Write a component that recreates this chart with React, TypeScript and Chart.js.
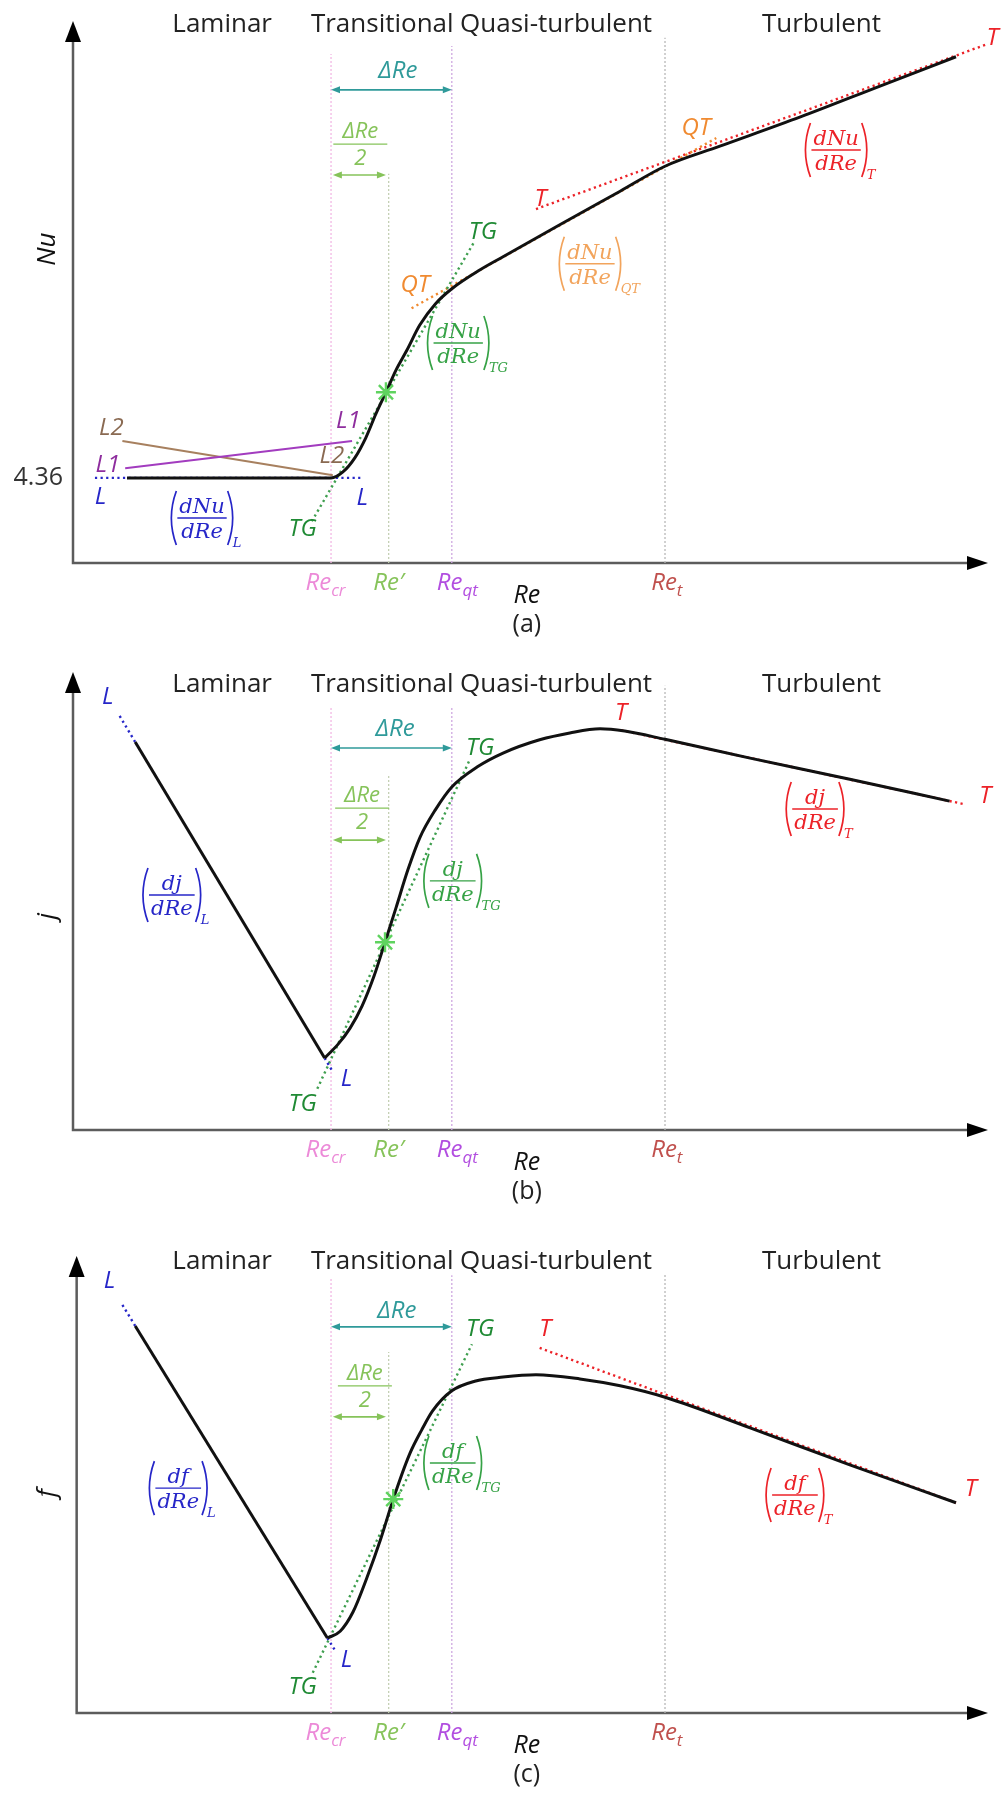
import React, { useEffect, useRef } from "react";
import { Chart, registerables } from "chart.js";
Chart.register(...registerables);

// Schematic units: Re axis 0..100, property axis 0..100 (the source figure has no numeric scale)
const regions = ["Laminar", "Transitional", "Quasi-turbulent", "Turbulent"];
const regionRe = [16.3, 33.8, 52.8, 81.8];
const markRe = [28.2, 34.5, 41.4, 64.7]; // Re_cr, Re', Re_qt, Re_t
const markLabelRe = [27.6, 34.5, 42.0, 64.9];
const markMain = ["Re", "Re\u2032", "Re", "Re"];
const markSub = ["cr", "", "qt", "t"];

// ---- (a) Nu ----
const nuRe = [5.9, 28.2, 29.5, 30.8, 32.0, 33.1, 34.2, 35.3, 36.5, 37.9, 39.6, 41.4, 44.5, 47.0, 53.2, 59.8, 64.7, 70.7, 79.5, 88.2, 96.5];
const nuVal = [15.7, 15.7, 16.8, 19.4, 23.1, 27.5, 31.5, 35.6, 39.3, 43.9, 47.8, 50.6, 54.1, 56.5, 62.4, 68.6, 73.2, 76.9, 82.3, 88.0, 93.4];
const nuStar = [34.2, 31.5];
const nuLRe = [2.4, 31.4];
const nuLVal = [15.7, 15.7];
const nuL1Re = [5.7, 30.5];
const nuL1Val = [17.5, 22.5];
const nuL2Re = [5.4, 28.4];
const nuL2Val = [22.5, 16.2];
const nuTgRe = [26.1, 43.9];
const nuTgVal = [7.7, 59.4];
const nuQtRe = [37.0, 70.3];
const nuQtVal = [47.0, 78.4];
const nuTRe = [50.6, 99.7];
const nuTVal = [65.3, 95.6];
const nuLaminarTick = "4.36";
const nuLaminarValue = 15.7;

// ---- (b) j ----
const jLamRe = [6.8, 27.5];
const jLamVal = [84.7, 15.7];
const jRe = [27.5, 29.0, 30.3, 31.6, 32.9, 34.1, 35.3, 36.6, 37.9, 39.6, 41.4, 44.2, 47.0, 51.0, 54.3, 57.6, 60.3, 64.7, 74.0, 84.9, 95.8];
const jVal = [15.7, 18.8, 22.3, 27.1, 33.6, 41.0, 48.5, 56.8, 63.8, 69.9, 74.9, 79.3, 82.3, 85.2, 86.7, 87.6, 87.1, 85.3, 81.2, 76.6, 71.8];
const jStar = [34.1, 41.0];
const jLTopRe = [5.1, 6.8];
const jLTopVal = [90.4, 84.7];
const jLBotRe = [27.5, 28.4];
const jLBotVal = [15.7, 12.7];
const jTgRe = [26.7, 43.4];
const jTgVal = [9.0, 81.0];
const jTRe = [59.9, 97.5];
const jTVal = [87.3, 71.1];

// ---- (c) f ----
const fLamRe = [6.8, 27.8];
const fLamVal = [84.7, 16.4];
const fRe = [27.8, 29.2, 30.6, 32.1, 33.6, 35.0, 36.8, 38.1, 39.3, 41.4, 43.9, 47.0, 50.6, 55.4, 59.8, 64.7, 74.0, 84.9, 96.5];
const fVal = [16.4, 17.9, 22.1, 29.5, 37.9, 46.8, 56.7, 61.9, 66.1, 70.5, 72.6, 73.5, 74.0, 73.1, 71.6, 69.1, 62.4, 54.3, 46.0];
const fStar = [35.0, 46.8];
const fLTopRe = [5.4, 6.8];
const fLTopVal = [89.3, 84.7];
const fLBotRe = [27.8, 28.7];
const fLBotVal = [16.4, 13.5];
const fTgRe = [26.2, 43.6];
const fTgVal = [8.8, 80.7];
const fTRe = [51.0, 96.5];
const fTVal = [79.9, 46.0];

// ---------------- styling ----------------
const SANS = '"Open Sans", "DejaVu Sans", sans-serif';
const SERIF = '"DejaVu Serif", serif';
const C = {
  curve: "#111111",
  axis: "#5c5c5c",
  blue: "#2626c8",
  green: "#1f8a34",
  greenLine: "#3f9f4f",
  greenFrac: "#36a246",
  star: "#5fd35f",
  orange: "#f08a30",
  orangeFrac: "#f2a45c",
  red: "#ec2228",
  teal: "#2f9a9a",
  light: "#86c35a",
  l1: "#a23cbf",
  l1Text: "#8e2d9e",
  l2: "#a7805f",
  l2Text: "#8a6a52",
  region: "#222222",
};
const markColor = ["#ec8ad8", "#86c35a", "#b24ee0", "#c0504d"];
const vLineColor = ["#f2b8e4", "#c4d0b4", "#cfa8e0", "#b8b8b8"];

type Tag = { t: string; x: number; y: number; c: string };
type Frac = { num: string; den: string; sub: string; x: number; y: number; c: string };
type PanelCfg = {
  height: number;
  padTop: number;
  padBottom: number;
  yAxisAt: number;
  yName: string;
  yNameY: number;
  regionY: number;
  tick?: { t: string; y: number };
  tags: Tag[];
  fracs: Frac[];
  dRe: { x: number; y: number; arrowY: number };
  dRe2: { x: number; y: number; arrowY: number };
  caption: string;
  datasets: any[];
};

const pts = (xs: number[], ys: number[]) => xs.map((x, i) => ({ x, y: ys[i] }));
const seg = (xs: number[], ys: number[], color: string, width: number, dash: number[] = [], order = 2) => ({
  data: pts(xs, ys),
  borderColor: color,
  borderWidth: width,
  borderDash: dash,
  pointRadius: 0,
  tension: 0,
  fill: false,
  order,
});
const curve = (xs: number[], ys: number[]) => ({
  data: pts(xs, ys),
  borderColor: C.curve,
  borderWidth: 3,
  pointRadius: 0,
  cubicInterpolationMode: "monotone",
  borderJoinStyle: "round",
  fill: false,
  order: 1,
});
const star = (p: number[]) => ({
  data: [{ x: p[0], y: p[1] }],
  showLine: false,
  pointStyle: "star",
  pointRadius: 10,
  borderWidth: 2.4,
  pointBorderColor: C.star,
  pointBackgroundColor: C.star,
  borderColor: C.star,
  order: 0,
});
const DOT = [2.2, 3.4];
const verticals = (tops: number[]) =>
  markRe.map((x, i) => seg([x, x], [0, tops[i]], vLineColor[i], 1.3, [2, 2], 3));

const panelA: PanelCfg = {
  height: 640,
  padTop: 21,
  padBottom: 77,
  yAxisAt: 0,
  yName: "Nu",
  yNameY: 57.9,
  regionY: 99.3,
  tick: { t: nuLaminarTick, y: nuLaminarValue },
  tags: [
    { t: "L", x: 3.0, y: 12.2, c: C.blue },
    { t: "L", x: 31.6, y: 12.0, c: C.blue },
    { t: "L1", x: 3.8, y: 18.0, c: C.l1Text },
    { t: "L2", x: 4.2, y: 24.9, c: C.l2Text },
    { t: "L1", x: 30.1, y: 26.2, c: C.l1Text },
    { t: "L2", x: 28.3, y: 19.7, c: C.l2Text },
    { t: "TG", x: 25.1, y: 6.3, c: C.green },
    { t: "TG", x: 44.8, y: 61.1, c: C.green },
    { t: "QT", x: 37.4, y: 51.3, c: C.orange },
    { t: "QT", x: 68.1, y: 80.3, c: C.orange },
    { t: "T", x: 51.1, y: 67.2, c: C.red },
    { t: "T", x: 100.5, y: 96.9, c: C.red },
  ],
  fracs: [
    { num: "dNu", den: "dRe", sub: "L", x: 14.1, y: 8.3, c: C.blue },
    { num: "dNu", den: "dRe", sub: "TG", x: 42.1, y: 40.6, c: C.greenFrac },
    { num: "dNu", den: "dRe", sub: "QT", x: 56.5, y: 55.2, c: C.orangeFrac },
    { num: "dNu", den: "dRe", sub: "T", x: 83.4, y: 76.2, c: C.red },
  ],
  dRe: { x: 35.5, y: 90.8, arrowY: 87.3 },
  dRe2: { x: 31.4, y: 77.3, arrowY: 71.6 },
  caption: "(a)",
  datasets: [
    star(nuStar),
    curve(nuRe, nuVal),
    seg(nuL1Re, nuL1Val, C.l1, 2),
    seg(nuL2Re, nuL2Val, C.l2, 2),
    seg(nuLRe, nuLVal, C.blue, 2.4, DOT),
    seg(nuTgRe, nuTgVal, C.greenLine, 2.4, DOT),
    seg(nuQtRe, nuQtVal, C.orange, 2.4, DOT),
    seg(nuTRe, nuTVal, C.red, 2.4, DOT),
    ...verticals([93.9, 71.8, 95.4, 96.9]),
  ],
};

const panelB: PanelCfg = {
  height: 575,
  padTop: 32,
  padBottom: 85,
  yAxisAt: 0,
  yName: "j",
  yNameY: 46.7,
  regionY: 97.2,
  tags: [
    { t: "L", x: 3.8, y: 94.5, c: C.blue },
    { t: "L", x: 29.9, y: 11.1, c: C.blue },
    { t: "TG", x: 25.1, y: 5.7, c: C.green },
    { t: "TG", x: 44.5, y: 83.4, c: C.green },
    { t: "T", x: 59.9, y: 91.0, c: C.red },
    { t: "T", x: 99.7, y: 72.9, c: C.red },
  ],
  fracs: [
    { num: "dj", den: "dRe", sub: "L", x: 10.8, y: 51.3, c: C.blue },
    { num: "dj", den: "dRe", sub: "TG", x: 41.5, y: 54.4, c: C.greenFrac },
    { num: "dj", den: "dRe", sub: "T", x: 81.1, y: 70.1, c: C.red },
  ],
  dRe: { x: 35.2, y: 87.6, arrowY: 83.4 },
  dRe2: { x: 31.6, y: 70.3, arrowY: 63.3 },
  caption: "(b)",
  datasets: [
    star(jStar),
    seg(jLamRe, jLamVal, C.curve, 3, [], 1),
    curve(jRe, jVal),
    seg(jLTopRe, jLTopVal, C.blue, 2.4, DOT),
    seg(jLBotRe, jLBotVal, C.blue, 2.4, DOT),
    seg(jTgRe, jTgVal, C.greenLine, 2.4, DOT),
    seg(jTRe, jTVal, C.red, 2.4, DOT),
    ...verticals([92.6, 77.5, 92.6, 97.0]),
  ],
};

const panelC: PanelCfg = {
  height: 579,
  padTop: 41,
  padBottom: 81,
  yAxisAt: 0.4,
  yName: "f",
  yNameY: 48.1,
  regionY: 98.7,
  tags: [
    { t: "L", x: 4.0, y: 94.5, c: C.blue },
    { t: "L", x: 29.9, y: 11.6, c: C.blue },
    { t: "TG", x: 25.1, y: 5.7, c: C.green },
    { t: "TG", x: 44.5, y: 84.0, c: C.green },
    { t: "T", x: 51.6, y: 84.0, c: C.red },
    { t: "T", x: 98.1, y: 49.0, c: C.red },
  ],
  fracs: [
    { num: "df", den: "dRe", sub: "L", x: 11.5, y: 49.2, c: C.blue },
    { num: "df", den: "dRe", sub: "TG", x: 41.5, y: 54.7, c: C.greenFrac },
    { num: "df", den: "dRe", sub: "T", x: 78.9, y: 47.7, c: C.red },
  ],
  dRe: { x: 35.4, y: 88.0, arrowY: 84.5 },
  dRe2: { x: 31.9, y: 71.6, arrowY: 64.8 },
  caption: "(c)",
  datasets: [
    star(fStar),
    seg(fLamRe, fLamVal, C.curve, 3, [], 1),
    curve(fRe, fVal),
    seg(fLTopRe, fLTopVal, C.blue, 2.4, DOT),
    seg(fLBotRe, fLBotVal, C.blue, 2.4, DOT),
    seg(fTgRe, fTgVal, C.greenLine, 2.4, DOT),
    seg(fTRe, fTVal, C.red, 2.4, DOT),
    ...verticals([95.0, 79.0, 95.8, 96.0]),
  ],
};

const panels = [panelA, panelB, panelC];

// ---------------- drawing helpers ----------------
function label(ctx: CanvasRenderingContext2D, s: string, x: number, y: number, font: string, color: string, align: CanvasTextAlign = "center") {
  ctx.font = font;
  ctx.fillStyle = color;
  ctx.textAlign = align;
  ctx.textBaseline = "middle";
  ctx.fillText(s, x, y);
}

function dblArrow(ctx: CanvasRenderingContext2D, x1: number, x2: number, y: number, color: string) {
  ctx.save();
  ctx.strokeStyle = color;
  ctx.fillStyle = color;
  ctx.lineWidth = 1.6;
  ctx.setLineDash([]);
  ctx.beginPath();
  ctx.moveTo(x1 + 4, y);
  ctx.lineTo(x2 - 4, y);
  ctx.stroke();
  ctx.beginPath();
  ctx.moveTo(x1, y);
  ctx.lineTo(x1 + 9, y - 3.5);
  ctx.lineTo(x1 + 9, y + 3.5);
  ctx.closePath();
  ctx.fill();
  ctx.beginPath();
  ctx.moveTo(x2, y);
  ctx.lineTo(x2 - 9, y - 3.5);
  ctx.lineTo(x2 - 9, y + 3.5);
  ctx.closePath();
  ctx.fill();
  ctx.restore();
}

function drawFrac(ctx: CanvasRenderingContext2D, cx: number, cy: number, f: Frac) {
  ctx.save();
  ctx.font = `italic 21px ${SERIF}`;
  ctx.fillStyle = f.c;
  ctx.strokeStyle = f.c;
  const w = Math.max(ctx.measureText(f.num).width, ctx.measureText(f.den).width) + 4;
  ctx.textAlign = "center";
  ctx.textBaseline = "alphabetic";
  ctx.fillText(f.num, cx, cy - 5);
  ctx.fillText(f.den, cx, cy + 20);
  ctx.lineWidth = 1.4;
  ctx.beginPath();
  ctx.moveTo(cx - w / 2, cy);
  ctx.lineTo(cx + w / 2, cy);
  ctx.stroke();
  const lx = cx - w / 2 - 5;
  const rx = cx + w / 2 + 5;
  const h = 27;
  ctx.lineWidth = 1.7;
  ctx.beginPath();
  ctx.moveTo(lx + 4, cy - h);
  ctx.quadraticCurveTo(lx - 6, cy, lx + 4, cy + h);
  ctx.stroke();
  ctx.beginPath();
  ctx.moveTo(rx - 4, cy - h);
  ctx.quadraticCurveTo(rx + 6, cy, rx - 4, cy + h);
  ctx.stroke();
  ctx.font = `italic 13px ${SERIF}`;
  ctx.textAlign = "left";
  ctx.fillText(f.sub, rx + 1, cy + h + 2);
  ctx.restore();
}

function makePlugin(cfg: PanelCfg) {
  return {
    id: "schematic",
    beforeDatasetsDraw(chart: any) {
      const ctx: CanvasRenderingContext2D = chart.ctx;
      const xs = chart.scales.x;
      const ys = chart.scales.y;
      const ox = xs.getPixelForValue(cfg.yAxisAt);
      const oy = ys.getPixelForValue(0);
      const top = ys.getPixelForValue(100);
      const right = xs.getPixelForValue(100);
      ctx.save();
      ctx.strokeStyle = C.axis;
      ctx.lineWidth = 2.5;
      ctx.beginPath();
      ctx.moveTo(ox, top + 14);
      ctx.lineTo(ox, oy);
      ctx.lineTo(right - 14, oy);
      ctx.stroke();
      ctx.fillStyle = "#000";
      ctx.beginPath();
      ctx.moveTo(ox, top);
      ctx.lineTo(ox - 8, top + 21);
      ctx.lineTo(ox + 8, top + 21);
      ctx.closePath();
      ctx.fill();
      ctx.beginPath();
      ctx.moveTo(right, oy);
      ctx.lineTo(right - 21, oy - 7);
      ctx.lineTo(right - 21, oy + 7);
      ctx.closePath();
      ctx.fill();
      ctx.restore();
    },
    afterDatasetsDraw(chart: any) {
      const ctx: CanvasRenderingContext2D = chart.ctx;
      const xs = chart.scales.x;
      const ys = chart.scales.y;
      const X = (v: number) => xs.getPixelForValue(v);
      const Y = (v: number) => ys.getPixelForValue(v);
      const ox = X(cfg.yAxisAt);
      const oy = Y(0);
      ctx.save();
      // region names
      regions.forEach((r, i) => label(ctx, r, X(regionRe[i]), Y(cfg.regionY), `26px ${SANS}`, C.region));
      // y-axis name
      ctx.save();
      ctx.translate(X(-2.8), Y(cfg.yNameY));
      ctx.rotate(-Math.PI / 2);
      label(ctx, cfg.yName, 0, 0, `italic 26px ${SANS}`, "#111");
      ctx.restore();
      if (cfg.tick) label(ctx, cfg.tick.t, ox - 10, Y(cfg.tick.y), `25px ${SANS}`, "#333", "right");
      // x marks
      markRe.forEach((_, i) => {
        const cx = X(markLabelRe[i]);
        ctx.font = `italic 24px ${SANS}`;
        const wm = ctx.measureText(markMain[i]).width;
        ctx.font = `italic 17px ${SANS}`;
        const wsub = ctx.measureText(markSub[i]).width;
        const x0 = cx - (wm + wsub) / 2;
        label(ctx, markMain[i], x0, oy + 20, `italic 24px ${SANS}`, markColor[i], "left");
        if (markSub[i]) label(ctx, markSub[i], x0 + wm, oy + 28, `italic 17px ${SANS}`, markColor[i], "left");
      });
      label(ctx, "Re", X(49.6), oy + 33, `italic 25px ${SANS}`, "#111");
      label(ctx, cfg.caption, X(49.6), oy + 62, `25px ${SANS}`, "#222");
      // delta Re
      label(ctx, "\u0394Re", X(cfg.dRe.x), Y(cfg.dRe.y), `italic 24px ${SANS}`, C.teal);
      dblArrow(ctx, X(markRe[0]), X(markRe[2]), Y(cfg.dRe.arrowY), C.teal);
      // delta Re / 2
      const bx = X(cfg.dRe2.x);
      const by = Y(cfg.dRe2.y);
      label(ctx, "\u0394Re", bx, by - 12, `italic 22px ${SANS}`, C.light);
      ctx.strokeStyle = C.light;
      ctx.lineWidth = 1.3;
      ctx.beginPath();
      ctx.moveTo(bx - 27, by);
      ctx.lineTo(bx + 27, by);
      ctx.stroke();
      label(ctx, "2", bx, by + 15, `italic 22px ${SANS}`, C.light);
      dblArrow(ctx, X(markRe[0] + 0.2), X(markRe[1] - 0.3), Y(cfg.dRe2.arrowY), C.light);
      // tags
      cfg.tags.forEach((t) => label(ctx, t.t, X(t.x), Y(t.y), `italic 24px ${SANS}`, t.c));
      // fractions
      cfg.fracs.forEach((f) => drawFrac(ctx, X(f.x), Y(f.y), f));
      ctx.restore();
    },
  };
}

function Panel({ cfg }: { cfg: PanelCfg }) {
  const ref = useRef<HTMLCanvasElement>(null);
  useEffect(() => {
    if (!ref.current) return;
    const chart = new Chart(ref.current, {
      type: "line",
      data: { datasets: cfg.datasets },
      options: {
        animation: false,
        responsive: false,
        devicePixelRatio: 1,
        events: [],
        layout: { padding: { left: 73, right: 18, top: cfg.padTop, bottom: cfg.padBottom } },
        scales: {
          x: { type: "linear", min: 0, max: 100, display: false },
          y: { type: "linear", min: 0, max: 100, display: false },
        },
        plugins: { legend: { display: false }, tooltip: { enabled: false } },
      } as any,
      plugins: [makePlugin(cfg)] as any,
    });
    return () => chart.destroy();
  }, [cfg]);
  return <canvas ref={ref} width={1006} height={cfg.height} style={{ display: "block", width: 1006, height: cfg.height }} />;
}

export default function App() {
  return (
    <div style={{ position: "absolute", left: 0, top: 0, width: 1006, height: 1794, background: "#fff" }}>
      {panels.map((p) => (
        <Panel key={p.caption} cfg={p} />
      ))}
    </div>
  );
}
